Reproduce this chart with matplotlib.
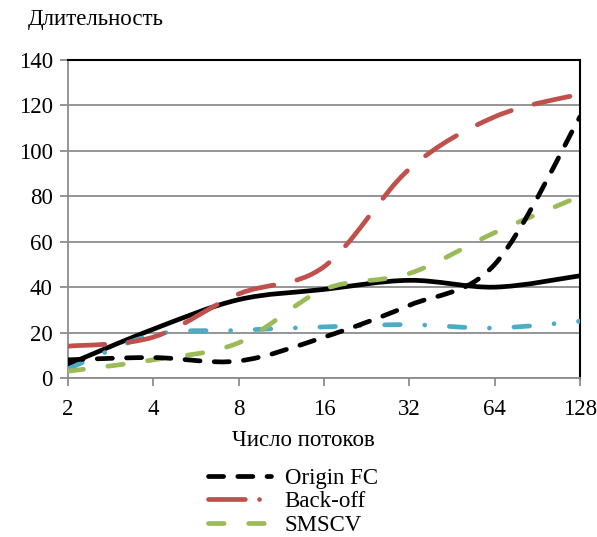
import numpy as np
import matplotlib.pyplot as plt
from matplotlib.path import Path
from matplotlib.patches import PathPatch
from matplotlib.lines import Line2D

plt.rcParams['font.family'] = ['Liberation Serif', 'DejaVu Serif']

threads = ['2', '4', '8', '16', '32', '64', '128']
origin_fc = [8, 9, 7.5, 18, 32, 50, 115]
back_off = [14, 18, 37, 49, 92, 115, 125]
smscv = [3, 8, 15.5, 39, 46, 64, 80]
solid_series = [6, 21.5, 34.5, 39, 43, 40, 45]
blue_series = [4, 19, 21, 22.5, 23.5, 22, 25]


def smooth_path(xs, ys):
    # excel-like smoothed line (catmull-rom as cubic bezier)
    pts = np.column_stack([xs, ys]).astype(float)
    n = len(pts)
    verts = [pts[0]]
    codes = [Path.MOVETO]
    for i in range(n - 1):
        p0 = pts[max(i - 1, 0)]
        p1 = pts[i]
        p2 = pts[i + 1]
        p3 = pts[min(i + 2, n - 1)]
        verts += [p1 + (p2 - p0) / 6, p2 - (p3 - p1) / 6, p2]
        codes += [Path.CURVE4] * 3
    return Path(verts, codes)


fig = plt.figure(figsize=(5.97, 5.37), dpi=100)
ax = fig.add_axes([68 / 597, 1 - 378 / 537, 512 / 597, 318 / 537])

x = np.arange(len(threads))
lw = 3.4
fs = 16.5
dash_black = (0, (3.2, 3.0))
dash_green = (0, (3.3, 5.2))
styles = [
    (solid_series, 'black', '-'),
    (blue_series, '#4BACC6', (0, (3.3, 5.2, 0.01, 5.2))),
    (smscv, '#9BBB59', dash_green),
    (back_off, '#C0504D', (0, (7.8, 5.0))),
    (origin_fc, 'black', dash_black),
]
for ys, col, ls in styles:
    ax.add_patch(PathPatch(smooth_path(x, ys), fill=False, edgecolor=col,
                           lw=lw, linestyle=ls, capstyle='round',
                           joinstyle='round', zorder=3))

ax.set_xlim(0, len(threads) - 1)
ax.set_ylim(0, 140)
ax.set_yticks(range(0, 141, 20))
ax.set_xticks(x)
ax.set_xticklabels(threads)
ax.grid(axis='y', color='#8c8c8c', lw=1.3)
ax.set_axisbelow(True)
for s in ['top', 'right']:
    ax.spines[s].set_color('black')
    ax.spines[s].set_linewidth(1.5)
for s in ['left', 'bottom']:
    ax.spines[s].set_color('#8c8c8c')
    ax.spines[s].set_linewidth(1.3)
ax.tick_params(axis='both', colors='#8c8c8c', length=6, width=1.3,
               labelcolor='black', labelsize=fs)
ax.tick_params(axis='y', pad=5)
ax.tick_params(axis='x', pad=9)

fig.text(28 / 597, 1 - 19 / 537, 'Длительность', fontsize=fs, va='center', ha='left')
fig.text(303 / 597, 1 - 441 / 537, 'Число потоков', fontsize=fs, va='center', ha='center')

handles = [
    Line2D([], [], color='black', lw=lw, ls=dash_black, dash_capstyle='round'),
    Line2D([], [], color='#C0504D', lw=lw, ls=(0, (7.8, 3.0, 0.01, 3.0)), dash_capstyle='round'),
    Line2D([], [], color='#9BBB59', lw=lw, ls=dash_green, dash_capstyle='round'),
]
fig.legend(handles, ['Origin FC', 'Back-off', 'SMSCV'], loc='upper left',
           bbox_to_anchor=(208 / 597, 1 - 468 / 537), frameon=False, fontsize=fs,
           handlelength=2.75, handletextpad=0.6, labelspacing=0.1,
           borderpad=0, borderaxespad=0)

fig.savefig('out.png', dpi=100)
